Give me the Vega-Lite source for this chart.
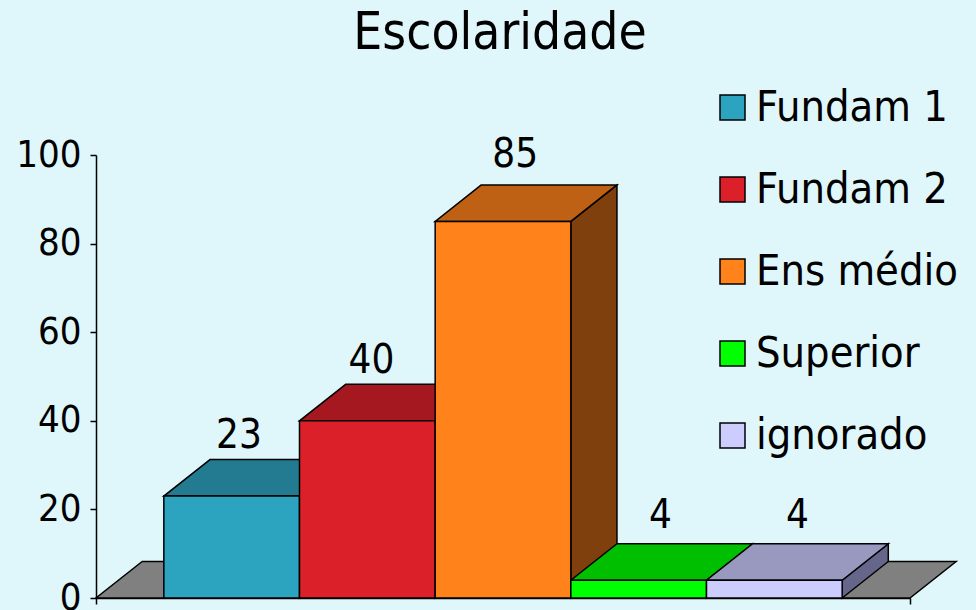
{"$schema":"https://vega.github.io/schema/vega-lite/v6.json","autosize":"none","width":814,"height":443,"padding":{"left":96,"top":155,"right":66,"bottom":12},"background":"#dff6fb","config":{"view":{"stroke":null},"font":"DejaVu Sans Condensed"},"title":{"text":"Escolaridade","fontSize":51,"font":"DejaVu Sans Condensed","fontWeight":"normal","anchor":"middle","frame":"group","dx":-3,"offset":26,"color":"black"},"datasets":{"bars":[{"nivel":"Fundam 1","ordem":1,"valor":23},{"nivel":"Fundam 2","ordem":2,"valor":40},{"nivel":"Ens médio","ordem":3,"valor":85},{"nivel":"Superior","ordem":4,"valor":4},{"nivel":"ignorado","ordem":5,"valor":4}],"piso":[{"nome":"piso"}]},"resolve":{"scale":{"color":"independent"}},"layer":[{"data":{"name":"piso"},"transform":[{"calculate":"[0,1]","as":"p"},{"flatten":["p"]},{"calculate":"datum.p*0.34","as":"x0"},{"calculate":"6+datum.p*0.34","as":"x1"},{"calculate":"datum.p*8.24","as":"y0"}],"mark":{"type":"area","orient":"horizontal","fill":"#808080","stroke":"black","strokeWidth":1.5},"encoding":{"y":{"field":"y0","type":"quantitative","scale":{"domain":[0,100],"nice":false},"axis":{"values":[0,20,40,60,80,100],"title":null,"grid":false,"labelFontSize":38,"labelFont":"DejaVu Sans Condensed","labelColor":"black","labelPadding":9,"tickSize":6,"tickColor":"black","tickWidth":1.5,"domainColor":"black","domainWidth":1.5}},"x":{"field":"x0","type":"quantitative","scale":{"domain":[0,6],"nice":false},"axis":{"values":[0,6],"title":null,"grid":false,"labels":false,"tickSize":6,"tickColor":"black","tickWidth":1.5,"domainColor":"black","domainWidth":1.5}},"x2":{"field":"x1"}}},{"data":{"name":"bars"},"transform":[{"calculate":"[0,1]","as":"p"},{"flatten":["p"]},{"calculate":"datum.ordem+0.5+datum.p*0.34","as":"x0"},{"calculate":"datum.p*8.24","as":"y0"},{"calculate":"datum.valor+datum.p*8.24","as":"y1"}],"mark":{"type":"area","stroke":"black","strokeWidth":1.5,"orient":"vertical"},"encoding":{"x":{"field":"x0","type":"quantitative"},"y":{"field":"y0","type":"quantitative"},"y2":{"field":"y1"},"detail":{"field":"nivel","type":"nominal"},"color":{"field":"nivel","type":"nominal","legend":null,"scale":{"domain":["Fundam 1","Fundam 2","Ens médio","Superior","ignorado"],"range":["#175261","#6e1015","#7f400e","#008000","#66668a"]}}}},{"data":{"name":"bars"},"transform":[{"calculate":"[0,1]","as":"p"},{"flatten":["p"]},{"calculate":"datum.ordem-0.5+datum.p*0.34","as":"x0"},{"calculate":"datum.ordem+0.5+datum.p*0.34","as":"x1"},{"calculate":"datum.valor+datum.p*8.24","as":"y0"}],"mark":{"type":"area","stroke":"black","strokeWidth":1.5,"orient":"horizontal"},"encoding":{"y":{"field":"y0","type":"quantitative"},"x":{"field":"x0","type":"quantitative"},"x2":{"field":"x1"},"detail":{"field":"nivel","type":"nominal"},"color":{"field":"nivel","type":"nominal","legend":null,"scale":{"domain":["Fundam 1","Fundam 2","Ens médio","Superior","ignorado"],"range":["#237b91","#a51820","#bf6114","#00bf00","#9999bf"]}}}},{"data":{"name":"bars"},"transform":[{"calculate":"datum.ordem-0.5","as":"x0"},{"calculate":"datum.ordem+0.5","as":"x1"},{"calculate":"0","as":"base"}],"mark":{"type":"rect","stroke":"black","strokeWidth":1.5},"encoding":{"x":{"field":"x0","type":"quantitative"},"x2":{"field":"x1"},"y":{"field":"base","type":"quantitative"},"y2":{"field":"valor"},"color":{"field":"nivel","type":"nominal","scale":{"domain":["Fundam 1","Fundam 2","Ens médio","Superior","ignorado"],"range":["#2ca3bf","#dc202a","#ff821b","#00ff00","#ccccff"]},"legend":{"title":null,"orient":"none","legendX":615,"legendY":-69,"direction":"vertical","symbolType":"square","symbolSize":625,"symbolStrokeColor":"black","symbolStrokeWidth":1.5,"symbolOpacity":1,"labelFontSize":43,"labelFont":"DejaVu Sans Condensed","labelColor":"black","labelOffset":2,"rowPadding":38,"labelLimit":300}}}},{"data":{"name":"bars"},"transform":[{"calculate":"datum.ordem+[0.054,0.03,0.09,0.16,0.17][datum.ordem-1]","as":"lx"},{"calculate":"datum.valor+[13.6,13.5,15,14.5,14.5][datum.ordem-1]","as":"ly"}],"mark":{"type":"text","fontSize":40,"font":"DejaVu Sans Condensed","color":"black","baseline":"middle","align":"center"},"encoding":{"x":{"field":"lx","type":"quantitative"},"y":{"field":"ly","type":"quantitative"},"text":{"field":"valor","type":"quantitative"}}}]}
